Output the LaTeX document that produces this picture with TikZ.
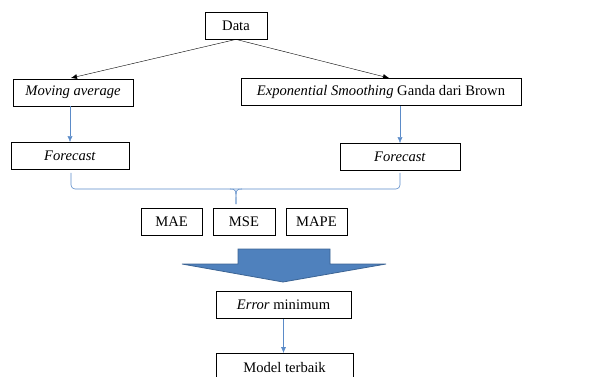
\documentclass[tikz,border=0pt]{standalone}
\usepackage{fontspec}
\setmainfont{Liberation Serif}
\usetikzlibrary{arrows.meta}

\definecolor{lineblue}{HTML}{5B8BC8}
\definecolor{arrowfill}{HTML}{4F81BD}
\definecolor{arrowedge}{HTML}{3C6494}

\tikzset{
  box/.style={draw, thick, minimum height=27pt, inner sep=0pt, font=\fontsize{14.6}{16}\selectfont},
  blackarrow/.style={-{Latex[length=6pt,width=5pt]}, thin},
  bluearrow/.style={-{Latex[length=6pt,width=5pt]}, lineblue, thin},
}

\begin{document}
\begin{tikzpicture}[x=1pt,y=-1pt]
  \useasboundingbox (0,0) rectangle (605,377);
  % top
  \node[box, minimum width=62pt] (data) at (236,25.5) {Data};
  % two methods
  \node[box, minimum width=120pt] (ma) at (73,92.5) {\textit{Moving average}};
  \node[box, minimum width=280pt] (es) at (381,92) {\textit{Exponential Smoothing} Ganda dari Brown};
  \draw[blackarrow] (data.south) -- (71,78);
  \draw[blackarrow] (data.south) -- (389,78);
  % forecasts
  \node[box, minimum width=118pt] (fcl) at (70,156) {\textit{Forecast}};
  \node[box, minimum width=120pt] (fcr) at (400,157) {\textit{Forecast}};
  \draw[bluearrow] (ma.south -| fcl.north) -- (fcl.north);
  \draw[bluearrow] (es.south -| fcr.north) -- (fcr.north);
  % brace joining both forecasts
  \coordinate (brace) at (236,189);
  \coordinate (bracetip) at (236,204);
  \draw[lineblue, semithick, rounded corners=4pt] ([yshift=-3pt]fcl.south -| 71,0) |- (brace) -| ([yshift=-2pt]fcr.south);
  \draw[lineblue, semithick] (230,189) .. controls (236,189) .. (bracetip);
  \draw[lineblue, semithick] (242,189) .. controls (236,189) .. (bracetip);
  % error measures
  \node[box, minimum width=61pt] (mae) at (171.5,222) {MAE};
  \node[box, minimum width=62pt] (mse) at (244,222) {MSE};
  \node[box, minimum width=61pt] (mape) at (316.5,222) {MAPE};
  % block arrow
  \draw[arrowedge, fill=arrowfill, line width=0.8pt]
    (238,249) -- (330,249) -- (330,264) -- (386,264) -- (283,282)
    -- (182,264) -- (238,264) -- cycle;
  % result
  \node[box, minimum width=135pt] (err) at (283.5,305) {\textit{Error} minimum};
  \node[box, minimum width=137pt, minimum height=28pt, anchor=north] (best) at (284.5,353) {Model terbaik};
  \draw[bluearrow] (err.south) -- (err.south |- best.north);
\end{tikzpicture}
\end{document}
